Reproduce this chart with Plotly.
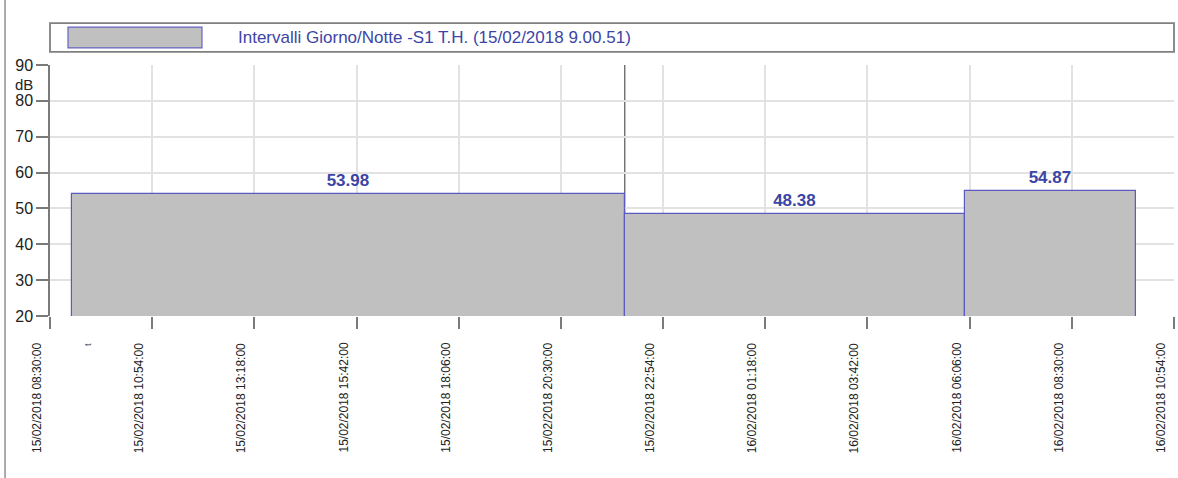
import plotly.graph_objects as go
import pandas as pd

# Data
interval_starts = ["2018-02-15 09:00:51", "2018-02-15 22:00:00", "2018-02-16 06:00:00"]
interval_ends = ["2018-02-15 22:00:00", "2018-02-16 06:00:00", "2018-02-16 10:01:00"]
leq_values = [53.98, 48.38, 54.87]
value_labels = ["53.98", "48.38", "54.87"]
series_name = "Intervalli Giorno/Notte -S1 T.H. (15/02/2018 9.00.51)"
separator_time = "2018-02-15 22:00:00"
x_start = "2018-02-15 08:30:00"
x_end = "2018-02-16 10:54:01"
x_tick_values = ["2018-02-15 08:30:00", "2018-02-15 10:54:00", "2018-02-15 13:18:00",
                 "2018-02-15 15:42:00", "2018-02-15 18:06:00", "2018-02-15 20:30:00",
                 "2018-02-15 22:54:00", "2018-02-16 01:18:00", "2018-02-16 03:42:00",
                 "2018-02-16 06:06:00", "2018-02-16 08:30:00", "2018-02-16 10:54:00"]
x_tick_labels = ["15/02/2018 08:30:00", "15/02/2018 10:54:00", "15/02/2018 13:18:00",
                 "15/02/2018 15:42:00", "15/02/2018 18:06:00", "15/02/2018 20:30:00",
                 "15/02/2018 22:54:00", "16/02/2018 01:18:00", "16/02/2018 03:42:00",
                 "16/02/2018 06:06:00", "16/02/2018 08:30:00", "16/02/2018 10:54:00"]
y_ticks = [20, 30, 40, 50, 60, 70, 80, 90]

starts = pd.to_datetime(interval_starts)
ends = pd.to_datetime(interval_ends)
mids = starts + (ends - starts) / 2
widths = [(e - s).total_seconds() * 1000 for s, e in zip(starts, ends)]

FONT = "Liberation Sans, Arial, sans-serif"
BLUE = "#3c45a5"

fig = go.Figure()
fig.add_trace(go.Bar(
    x=mids, y=leq_values, width=widths,
    marker=dict(color="#c0c0c0", line=dict(color="#5a5ac0", width=1.2)),
    text=value_labels, textposition="outside", cliponaxis=False,
    textfont=dict(family=FONT, size=17, color=BLUE),
    texttemplate="<b>%{text}</b>",
    name=series_name, showlegend=False,
))

# separator line
fig.add_shape(type="line", xref="x", yref="paper", x0=separator_time, x1=separator_time,
              y0=0, y1=1, line=dict(color="#555555", width=1.2), layer="below")

# legend box drawn manually
fig.add_shape(type="rect", xref="paper", yref="paper", x0=0, x1=1, y0=1.052, y1=1.167,
              line=dict(color="#808080", width=1.8), fillcolor="white")
fig.add_shape(type="rect", xref="paper", yref="paper", x0=0.016, x1=0.1352, y0=1.068, y1=1.151,
              line=dict(color="#6464c4", width=1.2), fillcolor="#c0c0c0")
fig.add_annotation(xref="paper", yref="paper", x=0.1655, y=1.1096, xanchor="left", yanchor="middle",
                   text=series_name, showarrow=False,
                   font=dict(family=FONT, size=17, color=BLUE))

# left window border
fig.add_shape(type="line", xref="paper", yref="paper", x0=-0.040, x1=-0.040, y0=-0.7, y1=1.3,
              line=dict(color="#909090", width=1.5))

# unit label
fig.add_annotation(xref="paper", yref="paper", x=-0.0232, y=0.922, xanchor="center", yanchor="middle",
                   text="dB", showarrow=False,
                   font=dict(family=FONT, size=15, color="#222222"))
# axis title "t"
fig.add_annotation(xref="paper", yref="paper", x=0.0338, y=-0.1116, xanchor="center", yanchor="middle",
                   text="t", showarrow=False,
                   textangle=-90, font=dict(family=FONT, size=9, color="#333333"))

# x tick labels, drawn left of their ticks as in the original
for tv, tl in zip(x_tick_values, x_tick_labels):
    fig.add_annotation(xref="x", yref="paper", x=tv, y=0, xanchor="right", yanchor="top",
                       xshift=-4, yshift=-25, text=tl, showarrow=False, textangle=-90,
                       font=dict(family=FONT, size=12, color="#222222"))

fig.update_layout(
    width=1178, height=478,
    margin=dict(l=50, r=4, t=65, b=162, autoexpand=False),
    paper_bgcolor="white", plot_bgcolor="white",
    bargap=0,
)
fig.update_xaxes(
    type="date", range=[x_start, x_end], automargin=False,
    tickvals=x_tick_values, showticklabels=False,
    ticks="outside", ticklen=12, tickcolor="#7a7a7a", tickwidth=1.5,
    showgrid=True, gridcolor="#e2e2e2", gridwidth=1.5,
    showline=False, zeroline=False,
)
fig.update_yaxes(
    range=[20, 90], tickvals=y_ticks, automargin=False,
    tickfont=dict(family=FONT, size=16, color="#222222"),
    ticks="outside", ticklen=12, tickcolor="#7a7a7a", tickwidth=1.5,
    showgrid=True, gridcolor="#e2e2e2", gridwidth=1.5,
    showline=True, linecolor="#7a7a7a", linewidth=1.5, zeroline=False,
)

fig.write_html("out.html", config={"displayModeBar": False},
               post_script="document.body.style.margin='0';")
